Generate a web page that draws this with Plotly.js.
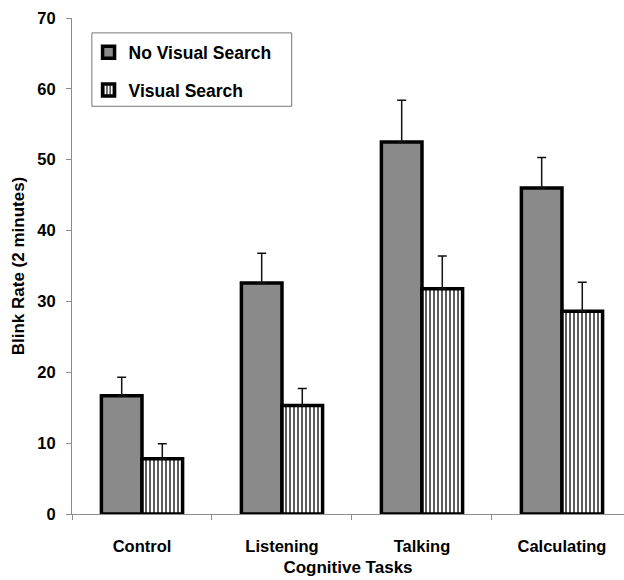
<!DOCTYPE html>
<html>
<head>
<meta charset="utf-8">
<script src="https://cdn.plot.ly/plotly-3.0.1.min.js"></script>
<style>
  html, body { margin: 0; padding: 0; background: #fff; }
  #chart { width: 624px; height: 580px; }
</style>
</head>
<body>
<div id="chart"></div>
<script>
// Blink rate per cognitive task, with and without a visual search task
const tasks = ["Control", "Listening", "Talking", "Calculating"];
const noSearchMean = [16.7, 32.6, 52.5, 46.0];
const noSearchErr = [2.6, 4.2, 5.9, 4.3];
const searchMean = [7.8, 15.3, 31.8, 28.6];
const searchErr = [2.1, 2.4, 4.6, 4.1];
const seriesNames = ["No Visual Search", "Visual Search"];
const yTicks = [0, 10, 20, 30, 40, 50, 60, 70];

const FONT = "Arial, 'Liberation Sans', sans-serif";

function upErr(vals) {
  return {
    type: "data", array: vals, symmetric: false,
    arrayminus: vals.map(() => 0),
    color: "#111", thickness: 1.5, width: 4.5
  };
}

const traces = [
  {
    type: "bar", name: seriesNames[0], x: tasks, y: noSearchMean,
    legendgroup: "a",
    marker: { color: "#8a8a8a", line: { color: "#000", width: 3.5 } },
    error_y: upErr(noSearchErr)
  },
  {
    type: "bar", name: seriesNames[1], x: tasks, y: searchMean,
    legendgroup: "b",
    marker: {
      color: "#ffffff",
      line: { color: "#000", width: 3.5 },
      pattern: { shape: "|", fgcolor: "#000", bgcolor: "#fff", size: 4, solidity: 0.32 }
    },
    error_y: upErr(searchErr)
  }
];

const layout = {
  width: 624, height: 580,
  margin: { l: 72, r: 0, t: 18, b: 66 },
  paper_bgcolor: "#fff", plot_bgcolor: "#fff",
  font: { family: FONT, size: 16, color: "#000", weight: 700 },
  barmode: "group", bargap: 0.42, bargroupgap: 0,
  showlegend: true,
  legend: {
    x: 0.03, xanchor: "left", y: 0.967, yanchor: "top",
    bgcolor: "rgba(0,0,0,0)", borderwidth: 0,
    font: { family: FONT, size: 17.5, color: "#000", weight: 700 },
    traceorder: "grouped", tracegroupgap: 12, itemwidth: 30
  },
  xaxis: {
    type: "category", range: [-0.5, 3.443],
    showline: true, linecolor: "#8c8c8c", linewidth: 1,
    ticks: "outside", tickson: "boundaries", ticklen: 5, tickcolor: "#8c8c8c",
    ticklabelstandoff: 17,
    tickfont: { family: FONT, size: 16.5, color: "#000", weight: 700 },
    showgrid: false, zeroline: false,
    title: { text: "Cognitive Tasks", standoff: 7,
             font: { family: FONT, size: 17, color: "#000", weight: 700 } }
  },
  yaxis: {
    range: [0, 70], tickvals: yTicks,
    showline: true, linecolor: "#8c8c8c", linewidth: 1,
    ticks: "outside", ticklen: 5, tickcolor: "#8c8c8c",
    ticklabelstandoff: 7,
    tickfont: { family: FONT, size: 16.5, color: "#000", weight: 700 },
    showgrid: false, zeroline: false,
    title: { text: "Blink Rate (2 minutes)", standoff: 8,
             font: { family: FONT, size: 17, color: "#000", weight: 700 } }
  },
  shapes: [{
    type: "rect", xref: "paper", yref: "paper",
    x0: 0.036, x1: 0.398, y0: 0.822, y1: 0.970,
    line: { color: "#777", width: 1 }, fillcolor: "rgba(0,0,0,0)", layer: "below"
  }]
};

Plotly.newPlot("chart", traces, layout, { displayModeBar: false, staticPlot: true });
</script>
</body>
</html>
